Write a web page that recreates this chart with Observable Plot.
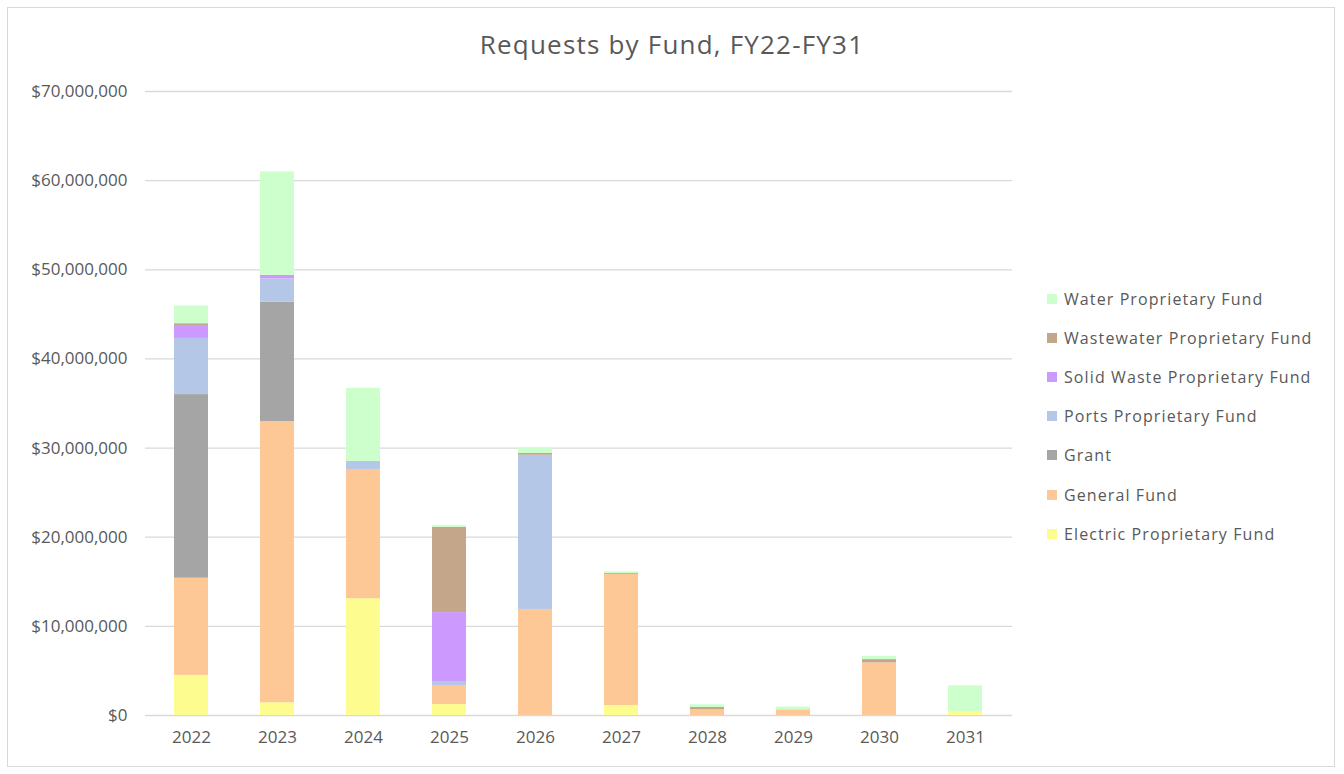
<!DOCTYPE html>
<html>
<head>
<meta charset="utf-8">
<script src="https://cdn.jsdelivr.net/npm/d3@7"></script>
<script src="https://cdn.jsdelivr.net/npm/@observablehq/plot@0.6"></script>
<style>
  html, body { margin: 0; padding: 0; background: #fff; }
  #wrap { position: relative; width: 1344px; height: 774px; font-family: "Open Sans", sans-serif; color: #595959; overflow: hidden; }
  #frame { position: absolute; left: 7px; top: 7px; width: 1328px; height: 760px; border: 1.5px solid #d9d9d9; box-sizing: border-box; }
  #title { position: absolute; left: 0; width: 1344px; top: 27px; text-align: center; font-size: 26px; letter-spacing: 1.2px; line-height: 34px; color: #595959; }
  #chart { position: absolute; left: 0; top: 0; }
  #legend { position: absolute; left: 1047px; top: 279px; }
  .item { display: flex; align-items: center; height: 39.2px; font-size: 16px; letter-spacing: 1.1px; white-space: nowrap; }
  .sw { width: 10px; height: 10px; margin-right: 7px; }
</style>
</head>
<body>
<div id="wrap">
  <div id="frame"></div>
  <div id="chart"></div>
  <div id="title">Requests by Fund, FY22-FY31</div>
  <div id="legend"></div>
</div>
<script>
const years = ["2022", "2023", "2024", "2025", "2026", "2027", "2028", "2029", "2030", "2031"];
const funds = ["Electric Proprietary Fund", "General Fund", "Grant", "Ports Proprietary Fund", "Solid Waste Proprietary Fund", "Wastewater Proprietary Fund", "Water Proprietary Fund"];
const fundColors = ["#fdfc8f", "#fec896", "#a5a5a5", "#b4c7e7", "#cc99ff", "#c4a68a", "#ccffcc"];

// values in dollars
const electric   = [4500000, 1430000, 13100000, 1230000, 0, 1120000, 0, 0, 0, 370000];
const general    = [10900000, 31550000, 14500000, 2140000, 11900000, 14700000, 640000, 640000, 5900000, 0];
const grant      = [20600000, 13400000, 0, 0, 0, 0, 0, 0, 0, 0];
const ports      = [6300000, 2600000, 900000, 370000, 17300000, 0, 0, 0, 0, 0];
const solidWaste = [1450000, 400000, 0, 7800000, 0, 0, 0, 0, 0, 0];
const wastewater = [200000, 0, 0, 9550000, 200000, 100000, 260000, 0, 370000, 0];
const water      = [2000000, 11600000, 8200000, 200000, 600000, 200000, 300000, 300000, 370000, 2960000];

const yTicks = [0, 10000000, 20000000, 30000000, 40000000, 50000000, 60000000, 70000000];

const series = [electric, general, grant, ports, solidWaste, wastewater, water];
const rows = years.flatMap((yr, i) => funds.map((f, j) => ({year: yr, fund: f, value: series[j][i]})));

const fmt = d => "$" + d3.format(",")(d);

const chart = Plot.plot({
  width: 1344,
  height: 774,
  marginLeft: 145,
  marginRight: 332,
  marginTop: 91,
  marginBottom: 59,
  style: {fontFamily: "Open Sans, sans-serif", fontSize: "16px", color: "#595959", background: "transparent"},
  x: {type: "band", domain: years, paddingInner: 0.6, paddingOuter: 0.3, label: null},
  y: {domain: [0, 70000000], label: null},
  color: {domain: funds, range: fundColors},
  marks: [
    Plot.gridY(yTicks, {stroke: "#d9d9d9", strokeOpacity: 1, strokeWidth: 1.3}),
    Plot.barY(rows, {x: "year", y: "value", fill: "fund"}),
    Plot.axisY(yTicks, {tickSize: 0, tickPadding: 18, tickFormat: fmt, label: null, fontSize: 17, letterSpacing: "1.5px"}),
    Plot.axisX({tickSize: 0, tickPadding: 15, label: null, fontSize: 17, letterSpacing: "0.4px"})
  ]
});
document.getElementById("chart").appendChild(chart);

const legend = document.getElementById("legend");
const legendOrder = funds.map((f, i) => ({f, c: fundColors[i]})).reverse();
for (const {f, c} of legendOrder) {
  const it = document.createElement("div");
  it.className = "item";
  const sw = document.createElement("span");
  sw.className = "sw";
  sw.style.background = c;
  const tx = document.createElement("span");
  tx.textContent = f;
  it.appendChild(sw);
  it.appendChild(tx);
  legend.appendChild(it);
}
</script>
</body>
</html>
